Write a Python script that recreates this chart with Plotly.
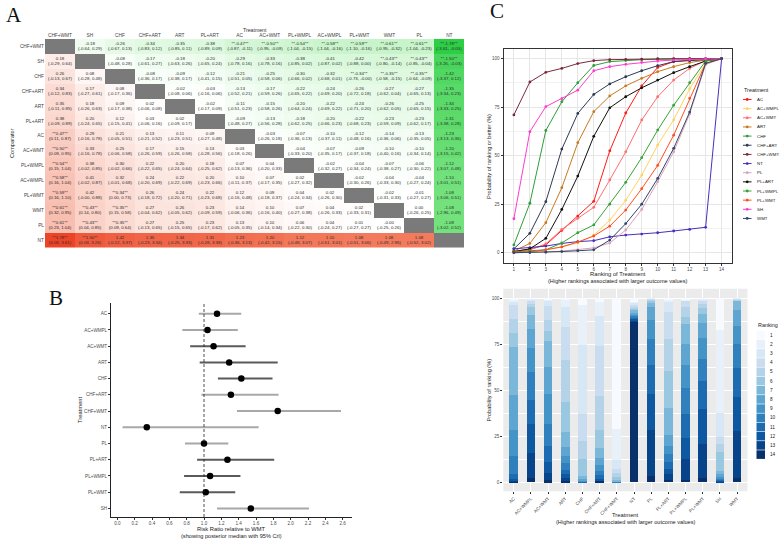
import plotly.graph_objects as go

W, H = 779, 541
FONT = "Liberation Sans, Arial, sans-serif"
SERIF = "Liberation Serif, Times New Roman, serif"


def fx(x):
    return x / W


def fy(y):
    return 1 - y / H


# ------------------------------------------------------------------ Panel A data
treat_A = ["CHF+WMT", "SH", "CHF", "CHF+ART", "ART", "PL+ART", "AC", "AC+WMT",
           "PL+WMPL", "AC+WMPL", "PL+WMT", "WMT", "PL", "NT"]

# upper triangle (row i, columns i+1..13)
upper_med = [
    [-0.18, -0.26, -0.34, -0.35, -0.38, -0.47, -0.50, -0.54, -0.58, -0.59, -0.61, -0.61, -1.78],
    [-0.08, -0.17, -0.18, -0.20, -0.29, -0.33, -0.38, -0.41, -0.42, -0.43, -0.43, -1.50],
    [-0.08, -0.09, -0.12, -0.21, -0.25, -0.30, -0.32, -0.34, -0.35, -0.35, -1.42],
    [-0.02, -0.03, -0.13, -0.17, -0.22, -0.24, -0.26, -0.27, -0.27, -1.35],
    [-0.02, -0.11, -0.15, -0.20, -0.22, -0.24, -0.26, -0.25, -1.34],
    [-0.09, -0.13, -0.18, -0.20, -0.22, -0.23, -0.23, -1.31],
    [-0.03, -0.07, -0.10, -0.12, -0.14, -0.13, -1.23],
    [-0.04, -0.07, -0.09, -0.10, -0.10, -1.20],
    [-0.02, -0.04, -0.07, -0.06, -1.12],
    [-0.02, -0.04, -0.04, -1.10],
    [-0.02, -0.01, -1.08],
    [0.00, -1.08],
    [-1.08],
]
upper_lo = [
    [-0.64, -0.67, -0.83, -0.85, -0.89, -0.87, -0.95, -1.04, -1.04, -1.10, -0.95, -1.04, -3.61],
    [-0.48, -0.61, -0.63, -0.65, -0.78, -0.78, -0.85, -0.87, -0.88, -0.80, -0.85, -3.26],
    [-0.36, -0.38, -0.41, -0.51, -0.58, -0.66, -0.68, -0.73, -0.58, -0.64, -3.37],
    [-0.08, -0.16, -0.52, -0.59, -0.65, -0.69, -0.72, -0.62, -0.65, -3.34],
    [-0.17, -0.51, -0.58, -0.64, -0.69, -0.71, -0.62, -0.65, -3.33],
    [-0.48, -0.56, -0.62, -0.66, -0.68, -0.59, -0.62, -3.38],
    [-0.26, -0.36, -0.37, -0.48, -0.36, -0.35, -3.13],
    [-0.33, -0.35, -0.37, -0.40, -0.34, -3.15],
    [-0.32, -0.34, -0.38, -0.30, -3.07],
    [-0.30, -0.33, -0.27, -3.01],
    [-0.31, -0.27, -3.06],
    [-0.26, -2.96],
    [-3.02],
]
upper_hi = [
    [0.29, 0.13, 0.12, 0.11, 0.09, -0.11, -0.09, -0.15, -0.16, -0.16, -0.32, -0.23, -0.05],
    [0.28, 0.27, 0.26, 0.24, 0.16, 0.16, 0.02, 0.02, 0.00, -0.14, -0.04, -0.03],
    [0.17, 0.17, 0.15, 0.05, 0.06, 0.02, 0.01, -0.00, -0.15, -0.09, 0.12],
    [0.06, 0.06, 0.21, 0.26, 0.22, 0.20, 0.18, 0.04, 0.13, 0.23],
    [0.09, 0.23, 0.26, 0.24, 0.22, 0.20, 0.05, 0.15, 0.25],
    [0.27, 0.28, 0.25, 0.23, 0.23, 0.09, 0.17, 0.28],
    [0.18, 0.13, 0.11, 0.16, 0.06, 0.05, 0.36],
    [0.20, 0.17, 0.18, 0.16, 0.14, 0.42],
    [0.27, 0.24, 0.27, 0.22, 0.48],
    [0.26, 0.30, 0.24, 0.51],
    [0.33, 0.27, 0.51],
    [0.25, 0.49],
    [0.52],
]
# lower triangle (row i, columns 0..i-1)
lower_med = [
    [],
    [0.18],
    [0.26, 0.08],
    [0.34, 0.17, 0.08],
    [0.35, 0.18, 0.09, 0.02],
    [0.38, 0.20, 0.12, 0.03, 0.02],
    [0.47, 0.29, 0.21, 0.13, 0.11, 0.09],
    [0.50, 0.33, 0.25, 0.17, 0.15, 0.13, 0.03],
    [0.54, 0.38, 0.30, 0.22, 0.20, 0.18, 0.07, 0.04],
    [0.58, 0.41, 0.32, 0.24, 0.22, 0.20, 0.10, 0.07, 0.02],
    [0.59, 0.42, 0.34, 0.26, 0.24, 0.22, 0.12, 0.09, 0.04, 0.02],
    [0.61, 0.43, 0.35, 0.27, 0.26, 0.23, 0.14, 0.10, 0.07, 0.04, 0.02],
    [0.61, 0.43, 0.35, 0.27, 0.25, 0.23, 0.13, 0.10, 0.06, 0.04, 0.01, -0.0],
    [1.78, 1.50, 1.42, 1.35, 1.34, 1.31, 1.23, 1.20, 1.12, 1.10, 1.08, 1.08, 1.08],
]
lower_lo = [
    [],
    [-0.29],
    [-0.13, -0.28],
    [-0.12, -0.27, -0.17],
    [-0.11, -0.26, -0.17, -0.06],
    [-0.09, -0.24, -0.15, -0.06, -0.09],
    [0.11, -0.16, -0.05, -0.21, -0.23, -0.27],
    [0.09, -0.16, -0.06, -0.26, -0.26, -0.28, -0.18],
    [0.15, -0.02, -0.02, -0.22, -0.24, -0.25, -0.13, -0.20],
    [0.16, -0.02, -0.01, -0.20, -0.22, -0.23, -0.11, -0.17, -0.27],
    [0.16, -0.0, 0.00, -0.18, -0.20, -0.23, -0.16, -0.18, -0.24, -0.26],
    [0.32, 0.14, 0.15, -0.04, -0.05, -0.09, -0.06, -0.16, -0.27, -0.26, -0.33],
    [0.23, 0.04, 0.09, -0.13, -0.15, -0.17, -0.05, -0.14, -0.22, -0.24, -0.27, -0.25],
    [0.05, 0.03, -0.12, -0.23, -0.25, -0.28, -0.36, -0.42, -0.48, -0.51, -0.51, -0.49, -0.52],
]
lower_hi = [
    [],
    [0.64],
    [0.67, 0.48],
    [0.83, 0.61, 0.36],
    [0.85, 0.63, 0.38, 0.08],
    [0.89, 0.65, 0.41, 0.16, 0.17],
    [0.87, 0.78, 0.51, 0.52, 0.51, 0.48],
    [0.95, 0.78, 0.58, 0.59, 0.58, 0.56, 0.26],
    [1.04, 0.85, 0.66, 0.65, 0.64, 0.62, 0.36, 0.33],
    [1.04, 0.87, 0.68, 0.69, 0.69, 0.66, 0.37, 0.35, 0.32],
    [1.10, 0.88, 0.73, 0.72, 0.71, 0.68, 0.48, 0.37, 0.34, 0.30],
    [0.95, 0.80, 0.58, 0.62, 0.62, 0.59, 0.36, 0.40, 0.38, 0.33, 0.31],
    [1.04, 0.85, 0.64, 0.65, 0.65, 0.62, 0.35, 0.34, 0.30, 0.27, 0.27, 0.26],
    [3.61, 3.26, 3.37, 3.34, 3.33, 3.38, 3.13, 3.15, 3.07, 3.01, 3.06, 2.96, 3.02],
]
sig_pairs = [("AC", "CHF+WMT"), ("AC+WMT", "CHF+WMT"), ("PL+WMPL", "CHF+WMT"),
             ("AC+WMPL", "CHF+WMT"), ("PL+WMT", "CHF+WMT"), ("PL+WMT", "CHF"),
             ("WMT", "CHF+WMT"), ("WMT", "SH"), ("WMT", "CHF"), ("PL", "CHF+WMT"),
             ("PL", "SH"), ("PL", "CHF"), ("NT", "CHF+WMT"), ("NT", "SH")]

# ------------------------------------------------------------------ Panel B data
treat_B = ["AC", "AC+WMPL", "AC+WMT", "ART", "CHF", "CHF+ART", "CHF+WMT", "NT",
           "PL", "PL+ART", "PL+WMPL", "PL+WMT", "SH"]
rr_med = [1.15, 1.04, 1.11, 1.29, 1.43, 1.31, 1.85, 0.34, 1.00, 1.27, 1.07, 1.02, 1.54]
rr_lo = [0.94, 0.75, 0.84, 0.95, 1.16, 0.97, 1.38, 0.06, 0.78, 0.92, 0.77, 0.72, 1.15]
rr_hi = [1.43, 1.39, 1.48, 1.85, 1.79, 1.86, 2.58, 1.63, 1.28, 1.81, 1.42, 1.36, 2.21]
rr_ticks = [0.0, 0.2, 0.4, 0.6, 0.8, 1.0, 1.2, 1.4, 1.6, 1.8, 2.0, 2.2, 2.4, 2.6]

# ------------------------------------------------------------------ Panel C / D data
treat_C = ["AC", "AC+WMPL", "AC+WMT", "ART", "CHF", "CHF+ART", "CHF+WMT", "NT",
           "PL", "PL+ART", "PL+WMPL", "PL+WMT", "SH", "WMT"]
ranks = list(range(1, 15))
cum_AC = [0.8, 1.8, 4.0, 11.5, 18.9, 26.5, 52.5, 72.0, 86.0, 95.5, 98.5, 99.3, 99.7, 100]
cum_AC_WMPL = [0.2, 0.5, 1.5, 3.0, 5.0, 9.0, 16.8, 27.0, 40.0, 55.5, 68.5, 84.5, 97.6, 100]
cum_AC_WMT = [0.5, 1.5, 4.5, 12.0, 17.7, 23.4, 37.5, 52.0, 68.4, 80.4, 89.0, 95.0, 99.0, 100]
cum_ART = [0.8, 4.8, 15.5, 33.5, 56.7, 72.7, 80.8, 86.0, 89.9, 93.3, 95.9, 98.0, 99.3, 100]
cum_CHF = [4.0, 25.5, 63.0, 77.8, 87.6, 96.5, 98.5, 99.1, 99.5, 99.7, 99.9, 100, 100, 100]
cum_CHF_ART = [2.0, 10.0, 26.3, 53.4, 71.8, 81.6, 87.0, 90.7, 93.8, 96.4, 98.5, 99.0, 99.3, 100]
cum_CHF_WMT = [71.0, 88.0, 93.0, 95.0, 97.5, 99.0, 99.5, 99.7, 99.8, 100, 100, 100, 100, 100]
cum_NT = [2.0, 2.6, 3.4, 4.8, 5.7, 6.2, 8.2, 9.1, 9.6, 10.3, 11.2, 12.0, 13.1, 100]
cum_PL = [0.0, 0.1, 0.3, 0.8, 1.5, 2.5, 5.0, 11.7, 22.3, 36.6, 52.0, 71.5, 97.0, 100]
cum_PL_ART = [0.5, 2.0, 7.4, 22.3, 39.5, 60.0, 74.7, 80.4, 85.0, 89.0, 92.8, 95.9, 98.8, 100]
cum_PL_WMPL = [0.5, 1.0, 1.5, 5.0, 10.3, 14.3, 25.0, 36.3, 49.0, 63.2, 76.0, 87.6, 98.8, 100]
cum_PL_WMT = [0.2, 0.5, 1.5, 3.0, 5.5, 8.6, 13.7, 22.0, 33.0, 45.0, 60.6, 79.5, 97.6, 100]
cum_SH = [17.5, 62.4, 75.3, 79.4, 83.8, 93.8, 95.9, 97.1, 98.1, 98.8, 99.3, 99.6, 100, 100]
cum_WMT = [0.0, 0.1, 0.3, 0.6, 1.0, 1.5, 6.5, 15.0, 25.0, 38.3, 53.8, 72.5, 97.6, 100]

cum_prob = {"AC": cum_AC, "AC+WMPL": cum_AC_WMPL, "AC+WMT": cum_AC_WMT, "ART": cum_ART,
            "CHF": cum_CHF, "CHF+ART": cum_CHF_ART, "CHF+WMT": cum_CHF_WMT, "NT": cum_NT,
            "PL": cum_PL, "PL+ART": cum_PL_ART, "PL+WMPL": cum_PL_WMPL,
            "PL+WMT": cum_PL_WMT, "SH": cum_SH, "WMT": cum_WMT}

# ------------------------------------------------------------------ styles
line_colors_C = {"AC": "#ff1a1a", "AC+WMPL": "#ffd35c", "AC+WMT": "#ff6f6f",
                 "ART": "#c77a1f", "CHF": "#2e9e3a", "CHF+ART": "#2e3a55",
                 "CHF+WMT": "#7a2a3c", "NT": "#4a2fc0", "PL": "#d9a3b8",
                 "PL+ART": "#111111", "PL+WMPL": "#36a336", "PL+WMT": "#ff4f1f",
                 "SH": "#ff3ccf", "WMT": "#34466b"}
blues14 = ["#f7fbff", "#e8f1fa", "#d8e7f5", "#cadcf0", "#b4d3e9", "#9ac8e0",
           "#7bb7d9", "#5ea5d1", "#4594c7", "#3080bd", "#1d6cb1", "#0e58a2",
           "#084489", "#08306b"]
forest_line = ["#a8a8a8", "#a8a8a8", "#5a5a5a", "#5a5a5a", "#5a5a5a", "#a8a8a8",
               "#a8a8a8", "#a8a8a8", "#a8a8a8", "#5a5a5a", "#5a5a5a", "#5a5a5a", "#a8a8a8"]

fig = go.Figure()
annotations = []
shapes = []


def ann(x, y, text, size, color="#1a1a1a", xanchor="center", yanchor="middle",
        angle=0, family=FONT):
    annotations.append(dict(x=fx(x), y=fy(y), xref="paper", yref="paper", text=text,
                            showarrow=False, xanchor=xanchor, yanchor=yanchor,
                            textangle=angle, font=dict(size=size, color=color, family=family)))


# ------------------------------------------------------------------ Panel A
n = len(treat_A)
Z = [[None] * n for _ in range(n)]
T = [[""] * n for _ in range(n)]
Zd = [[None] * n for _ in range(n)]
sig = set(sig_pairs) | set((b, a) for a, b in sig_pairs)


def f2(v):
    return f"{v:.2f}"


def cell_text(i, j, m, lo, hi):
    star = "**" if (treat_A[i], treat_A[j]) in sig else ""
    return f"{star}{f2(m)}{star}<br>({f2(lo)}, {f2(hi)})"


for i in range(n):
    Zd[i][i] = 1
    for k, j in enumerate(range(i + 1, n)):
        Z[i][j] = upper_med[i][k]
        T[i][j] = cell_text(i, j, upper_med[i][k], upper_lo[i][k], upper_hi[i][k])
    for j in range(i):
        Z[i][j] = lower_med[i][j]
        T[i][j] = cell_text(i, j, lower_med[i][j], lower_lo[i][j], lower_hi[i][j])

heat_scale = [[0.0, "rgb(45,205,70)"], [0.197, "rgb(115,226,125)"], [0.331, "rgb(200,244,202)"],
              [0.5, "rgb(255,255,255)"], [0.668, "rgb(248,192,178)"], [0.803, "rgb(243,122,92)"],
              [1.0, "rgb(236,68,38)"]]
fig.add_trace(go.Heatmap(
    z=Z, x=treat_A, y=treat_A, text=T, texttemplate="%{text}",
    textfont=dict(size=4.4, color="#2b2b2b", family=FONT),
    colorscale=heat_scale, zmin=-1.78, zmax=1.78, showscale=False, hoverinfo="skip",
    xaxis="x", yaxis="y"))
fig.add_trace(go.Heatmap(
    z=Zd, x=treat_A, y=treat_A, colorscale=[[0, "#7a7a7a"], [1, "#7a7a7a"]],
    showscale=False, hoverinfo="skip", xaxis="x", yaxis="y"))

# ------------------------------------------------------------------ Panel B
for i, t in enumerate(treat_B):
    fig.add_trace(go.Scatter(x=[rr_lo[i], rr_hi[i]], y=[i, i], mode="lines",
                             line=dict(color=forest_line[i], width=2),
                             hoverinfo="skip", xaxis="x2", yaxis="y2"))
fig.add_trace(go.Scatter(x=rr_med, y=list(range(len(treat_B))), mode="markers",
                         marker=dict(color="black", size=6.5), xaxis="x2", yaxis="y2"))
shapes.append(dict(type="line", xref="x2", yref="y2 domain", x0=1, x1=1, y0=0, y1=1,
                   line=dict(color="#222", width=0.8, dash="3px,2px")))

# ------------------------------------------------------------------ Panel C
for t in treat_C:
    fig.add_trace(go.Scatter(x=ranks, y=cum_prob[t], mode="lines+markers",
                             line=dict(color=line_colors_C[t], width=1),
                             marker=dict(color=line_colors_C[t], size=2.8),
                             xaxis="x3", yaxis="y3", hoverinfo="skip"))

# ------------------------------------------------------------------ Panel D
for r in range(14, 0, -1):
    vals = []
    for t in treat_C:
        c = cum_prob[t]
        vals.append(c[r - 1] - (c[r - 2] if r > 1 else 0))
    fig.add_trace(go.Bar(x=treat_C, y=vals, width=0.5, marker=dict(color=blues14[r - 1], line=dict(width=0)),
                         xaxis="x4", yaxis="y4", hoverinfo="skip"))
shapes.append(dict(type="rect", xref="x4 domain", yref="y4 domain", x0=0, x1=1, y0=0, y1=1,
                   fillcolor="#ebebeb", line=dict(width=0), layer="below"))

# ------------------------------------------------------------------ manual legends
ann(742, 90, "Treatment", 5.4, xanchor="left")
for k, t in enumerate(treat_C):
    y = 99.5 + k * 9.15
    shapes.append(dict(type="line", xref="paper", yref="paper", x0=fx(743), x1=fx(751.5),
                       y0=fy(y), y1=fy(y), line=dict(color=line_colors_C[t], width=1)))
    shapes.append(dict(type="circle", xref="paper", yref="paper", x0=fx(745.8), x1=fx(748.6),
                       y0=fy(y + 1.4), y1=fy(y - 1.4), fillcolor=line_colors_C[t],
                       line=dict(width=0)))
    ann(754.5, y, t, 4.4, xanchor="left")

ann(756, 325, "Ranking", 5.4, xanchor="left")
for k in range(14):
    y = 335 + k * 9.2
    shapes.append(dict(type="rect", xref="paper", yref="paper", x0=fx(756.5), x1=fx(765),
                       y0=fy(y + 4.3), y1=fy(y - 4.3), fillcolor=blues14[k],
                       line=dict(width=0)))
    ann(768, y, str(k + 1), 4.7, xanchor="left")

# ------------------------------------------------------------------ titles & labels
ann(14, 15, "A", 21, color="#111", family=SERIF)
ann(56, 298, "B", 21, color="#111", family=SERIF)
ann(497, 11, "C", 21, color="#111", family=SERIF)
ann(254.5, 29.5, "Treatment", 5.2, color="#333")
ann(12, 143, "Comparator", 5.6, angle=-90)
ann(80, 410, "Treatment", 5.8, angle=-90)
ann(231.5, 529, "Risk Ratio relative to WMT", 5.75)
ann(231.5, 536, "(showing posterior median with 95% CrI)", 5.6)
ann(489, 156, "Probability of ranking or better (%)", 5.6, angle=-90)
ann(617.5, 273.5, "Ranking of Treatment", 5.8)
ann(617.5, 280.5, "(Higher rankings associated with larger outcome values)", 5.6)
ann(488.5, 390, "Probability of ranking (%)", 5.6, angle=-90)
ann(625, 515, "Treatment", 5.8)
ann(625, 521.5, "(Higher rankings associated with larger outcome values)", 5.6)

tickfont = dict(size=4.6, color="#4d4d4d", family=FONT)
fig.update_layout(
    width=W, height=H, margin=dict(l=0, r=0, t=0, b=0),
    paper_bgcolor="white", plot_bgcolor="white", showlegend=False, barmode="stack",
    font=dict(family=FONT),
    annotations=annotations, shapes=shapes,
    xaxis=dict(domain=[fx(45), fx(464.3)], anchor="y", side="top", type="category",
               showgrid=False, zeroline=False, ticks="", tickfont=dict(size=4.8, color="#444", family=FONT),
               fixedrange=True),
    yaxis=dict(domain=[fy(247.5), fy(39)], anchor="x", type="category", autorange="reversed",
               showgrid=False, zeroline=False, ticks="", tickfont=dict(size=4.8, color="#444", family=FONT)),
    xaxis2=dict(domain=[fx(111), fx(352)], anchor="y2", range=[-0.073, 2.707],
                tickvals=rr_ticks, ticktext=[f"{v:.1f}" for v in rr_ticks],
                showgrid=False, zeroline=False, showline=True, linecolor="#222", linewidth=0.8,
                ticks="outside", ticklen=2, tickwidth=0.6, tickcolor="#333", tickfont=tickfont),
    yaxis2=dict(domain=[fy(517), fy(303)], anchor="x2", range=[12.53, -0.66],
                tickvals=list(range(len(treat_B))), ticktext=treat_B,
                showgrid=False, zeroline=False, showline=True, linecolor="#222", linewidth=0.8,
                ticks="outside", ticklen=2, tickwidth=0.6, tickcolor="#333", tickfont=tickfont),
    xaxis3=dict(domain=[fx(503.5), fx(732)], anchor="y3", range=[0.35, 14.65],
                tick0=1, dtick=1, showgrid=True, gridcolor="#e6e6e6", gridwidth=0.6,
                zeroline=False, showline=True, mirror=True, linecolor="#333", linewidth=0.8,
                ticks="outside", ticklen=2, tickwidth=0.6, tickcolor="#333", tickfont=tickfont),
    yaxis3=dict(domain=[fy(262.7), fy(49)], anchor="x3", range=[-5.15, 105],
                tick0=0, dtick=25, showgrid=True, gridcolor="#e6e6e6", gridwidth=0.6,
                minor=dict(dtick=12.5, showgrid=True, gridcolor="#f2f2f2", gridwidth=0.4),
                zeroline=False, showline=True, mirror=True, linecolor="#333", linewidth=0.8,
                ticks="outside", ticklen=2, tickwidth=0.6, tickcolor="#333", tickfont=tickfont),
    xaxis4=dict(domain=[fx(503.3), fx(747.5)], anchor="y4", type="category", range=[-0.6, 13.6],
                showgrid=True, gridcolor="white", gridwidth=0.8, zeroline=False,
                ticks="outside", ticklen=2, tickwidth=0.6, tickcolor="#333",
                tickangle=-45, tickfont=tickfont),
    yaxis4=dict(domain=[fy(491.2), fy(288.8)], anchor="x4", range=[-5, 105],
                tick0=0, dtick=25, showgrid=True, gridcolor="white", gridwidth=0.8,
                minor=dict(dtick=12.5, showgrid=True, gridcolor="white", gridwidth=0.4),
                zeroline=False, ticks="outside", ticklen=2, tickwidth=0.6, tickcolor="#333",
                tickfont=tickfont),
)

fig.write_html("out.html")
